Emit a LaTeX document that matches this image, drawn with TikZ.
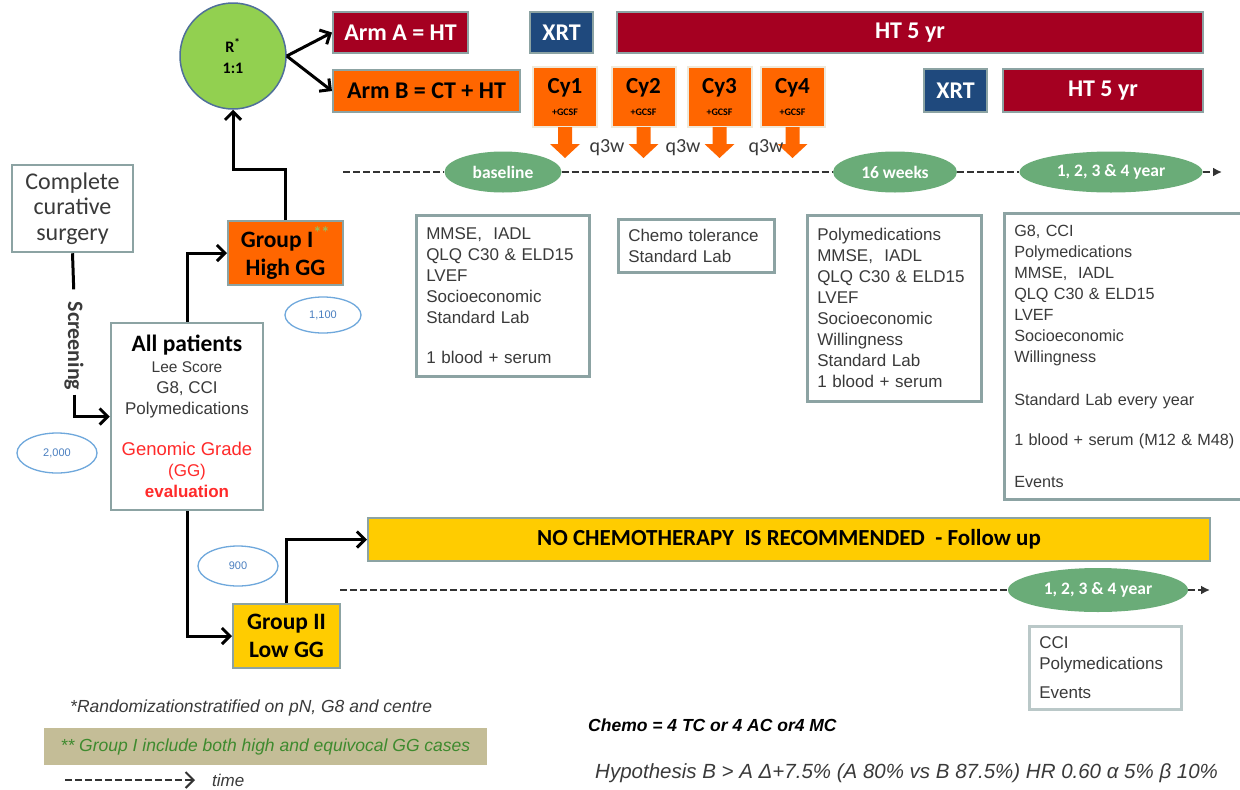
\documentclass[tikz,border=0pt]{standalone}
\usepackage{fontspec}
\setmainfont{Liberation Sans}
\newfontfamily\calfont{Carlito}
\usetikzlibrary{shapes.geometric,arrows.meta}

\definecolor{armred}{HTML}{A50021}
\definecolor{xrtblue}{HTML}{1F497D}
\definecolor{cyorange}{HTML}{FF6600}
\definecolor{cyrim}{HTML}{EFE9DA}
\definecolor{randgreen}{HTML}{92D050}
\definecolor{randrim}{HTML}{4F6F9A}
\definecolor{stampgreen}{HTML}{6AAC78}
\definecolor{lowgold}{HTML}{FFCC00}
\definecolor{boxrim}{HTML}{8CA3A3}
\definecolor{cntblue}{HTML}{6FA8DC}
\definecolor{cnttext}{HTML}{4A7FC0}
\definecolor{notetan}{HTML}{C4BD97}
\definecolor{notegreen}{HTML}{3E8A2E}
\definecolor{listgray}{HTML}{3A3A3A}
\definecolor{dashgray}{HTML}{333333}
\definecolor{ggred}{HTML}{FF2A2A}
\definecolor{stargreen}{HTML}{9BBB59}

\newcommand{\hdsize}{\fontsize{24}{28}\selectfont}
\newcommand{\lstsize}{\fontsize{17}{21}\selectfont}

\tikzset{
	>={Straight Barb[length=8pt,width=16pt]},
	bar/.style={draw=boxrim, line width=2pt, inner sep=0pt, font=\calfont\bfseries\hdsize},
	cybox/.style={draw=cyrim, line width=2pt, fill=cyorange, inner sep=0pt,
		minimum width=64pt, minimum height=60pt, align=center, font=\calfont\bfseries\fontsize{23}{27}\selectfont},
	stamp/.style={ellipse, fill=stampgreen, text=white, inner sep=0pt,
		font=\calfont\bfseries\fontsize{17.5}{20}\selectfont},
	count/.style={ellipse, draw=cntblue, line width=1.3pt, text=cnttext, inner sep=0pt,
		font=\fontsize{11}{12}\selectfont},
	listbox/.style={draw=boxrim, line width=2.5pt, anchor=north west, align=left,
		inner xsep=10pt, inner ysep=0pt, font=\lstsize, text=listgray},
	flow/.style={line width=3pt, ->},
	tline/.style={draw=dashgray, line width=2pt, dash pattern=on 7pt off 3pt},
}

\begin{document}
\begin{tikzpicture}[x=1pt,y=-1pt]
	\useasboundingbox[fill=white] (0,0) rectangle (1240,790);

	% randomisation and arms
	\node[circle, draw=randrim, line width=1.5pt, fill=randgreen, minimum size=106pt,
		align=center, font=\calfont\bfseries\fontsize{16}{21}\selectfont] (rand) at (233,56) {R\textsuperscript{*}\\1:1};

	\begin{scope}[every node/.style={bar}]
		\node[fill=armred, text=white, minimum width=135pt, minimum height=41pt] (armA) at (400.5,32.5) {Arm A = HT};
		\node[fill=xrtblue, text=white, minimum width=63pt, minimum height=41pt] (xrtA) at (561.5,32.5) {XRT};
		\node[fill=armred, text=white, minimum width=586pt, minimum height=41pt] (htA) at (910,32.5) {HT 5 yr};
		\node[fill=cyorange, minimum width=187pt, minimum height=42pt] (armB) at (426.5,91) {Arm B = CT + HT};
		\node[fill=xrtblue, text=white, minimum width=63pt, minimum height=43pt] (xrtB) at (955.5,90.5) {XRT};
		\node[fill=armred, text=white, minimum width=200pt, minimum height=43pt] (htB) at (1103,90.5) {HT 5 yr};
	\end{scope}

	\path [flow] (rand.east) edge (armA.west);
	\path [flow] (rand.east) edge (armB.west);

	% chemo cycles
	\node[cybox] (cy1) at (565,97) {Cy1\\[-5pt]{\fontsize{10}{11}\selectfont +GCSF}};
	\node[cybox] (cy2) at (643.5,97) {Cy2\\[-5pt]{\fontsize{10}{11}\selectfont +GCSF}};
	\node[cybox] (cy3) at (719.5,97) {Cy3\\[-5pt]{\fontsize{10}{11}\selectfont +GCSF}};
	\node[cybox] (cy4) at (792.5,97) {Cy4\\[-5pt]{\fontsize{10}{11}\selectfont +GCSF}};
	\foreach \c in {cy1,cy2,cy3,cy4}
		\fill[cyorange] (\c.south) ++(-7,-1) -- ++(0,17) -- ++(-8,0) -- ++(15,14)
			-- ++(15,-14) -- ++(-8,0) -- ++(0,-17) -- cycle;

	\begin{scope}[every node/.style={font=\calfont\fontsize{20}{22}\selectfont, text=listgray}]
		\node (qA) at (607,148) {q3w};
		\node (qB) at (683,148) {q3w};
		\node (qC) at (766,148) {q3w};
	\end{scope}

	% timeline of arms
	\coordinate (tlA) at (343,172);
	\coordinate (tlB) at (1222,172);
	\node[stamp, minimum width=117pt, minimum height=41pt] (base) at (503,172) {baseline};
	\node[stamp, minimum width=124pt, minimum height=41pt] (wk16) at (895,172) {16 weeks};
	\node[stamp, minimum width=183pt, minimum height=41pt] (yrA) at (1111,172) {1, 2, 3 \& 4 year};
	\draw[tline] (tlA) -- (base);
	\draw[tline] (base) -- (wk16);
	\draw[tline] (wk16) -- (yrA);
	\draw[tline, -{Latex[length=9pt,width=9pt]}] (yrA) -- (tlB);

	% assessments
	\node[listbox, text width=153pt, minimum height=161pt] (evA) at (415,214)
		{MMSE,\ \ IADL\\QLQ C30 \& ELD15\\LVEF\\Socioeconomic\\Standard Lab\\[19pt]1 blood + serum};
	\node[listbox, text width=136pt, minimum height=53pt] (evB) at (617,218)
		{Chemo tolerance\\Standard Lab};
	\node[listbox, text width=154pt, minimum height=186pt] (evC) at (806,214)
		{Polymedications\\MMSE,\ \ IADL\\QLQ C30 \& ELD15\\LVEF\\Socioeconomic\\Willingness\\Standard Lab\\1 blood + serum};
	\node[listbox, text width=237pt, minimum height=286pt, font=\fontsize{16.2}{21}\selectfont] (evD) at (1003,212)
		{G8, CCI\\Polymedications\\MMSE,\ \ IADL\\QLQ C30 \& ELD15\\LVEF\\Socioeconomic\\Willingness\\[22pt]Standard Lab every year\\[19pt]1 blood + serum (M12 \& M48)\\[21pt]Events};

	% screening and groups
	\node[draw=boxrim, line width=2.5pt, minimum width=121pt, minimum height=87pt, align=center,
		text=listgray, font=\calfont\fontsize{24}{25.5}\selectfont] (surgery) at (72.5,208.5)
		{Complete\\curative\\surgery};
	\node[rotate=-90, inner sep=4pt, font=\calfont\bfseries\fontsize{22}{24}\selectfont, text=listgray] (screen) at (74,346) {Screening};
	\node[draw=boxrim, line width=2.5pt, minimum width=152pt, minimum height=187pt, align=center,
		text=listgray, font=\fontsize{17}{21}\selectfont] (allpat) at (187,416.5)
		{{\calfont\bfseries\fontsize{23.5}{25}\selectfont\color{black}All patients}\\
		{\fontsize{15.5}{20}\selectfont Lee Score}\\G8, CCI\\Polymedications\\[20pt]
		\color{ggred}\fontsize{18.5}{21}\selectfont Genomic Grade\\\color{ggred}(GG)\\\color{ggred}\bfseries evaluation};
	\node[bar, fill=cyorange, minimum width=115pt, minimum height=64pt, align=center,
		font=\calfont\bfseries\fontsize{23.5}{28}\selectfont] (groupI) at (285.5,253)
		{Group I\textsuperscript{\color{stargreen}**}\\High GG};
	\node[bar, fill=lowgold, minimum width=107pt, minimum height=64pt, align=center,
		font=\calfont\bfseries\fontsize{23.5}{28}\selectfont] (groupII) at (286.5,636)
		{Group II\\Low GG};
	\node[bar, fill=lowgold, minimum width=842pt, minimum height=43pt,
		font=\calfont\bfseries\fontsize{23}{26}\selectfont] (nochemo) at (789,539.5)
		{NO CHEMOTHERAPY\ \ IS RECOMMENDED\ \ - Follow up};

	\node[count, minimum width=80pt, minimum height=40pt] (nAll) at (57,453) {2,000};
	\node[count, minimum width=76pt, minimum height=36pt] (nHigh) at (323,315) {1,100};
	\node[count, minimum width=80pt, minimum height=40pt] (nLow) at (238,566) {900};

	\draw[line width=3pt, shorten >=8pt] (surgery.south) -- (screen.west);
	\draw[flow] (screen.east) |- (allpat.west);
	\draw[flow] (allpat.north) |- (groupI.west);
	\draw[flow] (allpat.south) |- (groupII.west);
	\draw[flow] (groupI.north) -- ++(0,-51) -| (rand.south);
	\draw[flow] (groupII.north) |- (nochemo.west);

	% follow up timeline
	\coordinate (tlC) at (340,590);
	\coordinate (tlD) at (1210,590);
	\node[stamp, minimum width=180pt, minimum height=44pt] (yrB) at (1098,590) {1, 2, 3 \& 4 year};
	\draw[tline] (tlC) -- (yrB);
	\draw[tline, -{Latex[length=9pt,width=9pt]}] (yrB) -- (tlD);
	\node[listbox, draw=boxrim!60, text width=132pt, minimum height=83pt] (evE) at (1028,625)
		{CCI\\Polymedications\\[8pt]Events};

	% notes
	\node[anchor=west, inner sep=0pt, font=\itshape\fontsize{17.5}{19}\selectfont, text=listgray] (noteA) at (70,708)
		{*Randomizationstratified on pN, G8 and centre};
	\node[fill=notetan, minimum width=443pt, minimum height=37pt, inner sep=0pt,
		font=\itshape\fontsize{17.5}{19}\selectfont, text=notegreen] (noteB) at (265.5,746.5)
		{** Group I include both high and equivocal GG cases};
	\coordinate (lgA) at (65,780);
	\coordinate (lgB) at (195,780);
	\draw[tline, ->] (lgA) -- (lgB);
	\node[anchor=west, inner sep=0pt, font=\itshape\fontsize{17}{19}\selectfont, text=listgray] (lgtime) at (212,780) {time};
	\node[anchor=west, inner sep=0pt, font=\bfseries\itshape\fontsize{17.5}{19}\selectfont] (chemo) at (588,725)
		{Chemo = 4 TC or 4 AC or4 MC};
	\node[anchor=west, inner sep=0pt, font=\itshape\fontsize{20.5}{22}\selectfont, text=listgray] (hyp) at (595,773)
		{Hypothesis B > A Δ+7.5\% (A 80\% vs B 87.5\%) HR 0.60 α 5\% β 10\%};
\end{tikzpicture}
\end{document}
